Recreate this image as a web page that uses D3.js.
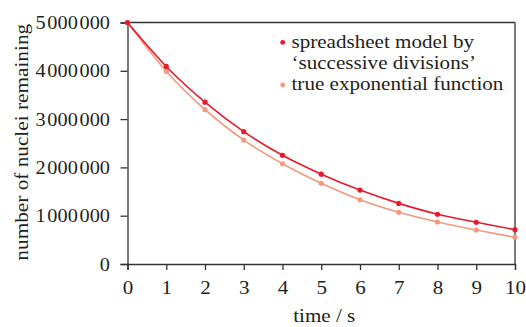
<!DOCTYPE html>
<style>
body { margin: 0; background-color: #FFFFFF; }
text { font-family: "Liberation Serif", "Times New Roman", serif; fill: #231f20; }
.axis .domain, .axis line { stroke: #333; stroke-width: 1.3; }
</style>
<svg width="526" height="327"></svg>
<script src="https://d3js.org/d3.v7.min.js"></script>
<script>

var times = [0, 1, 2, 3, 4, 5, 6, 7, 8, 9, 10];
var spreadsheet = [5000000, 4090000, 3350000, 2740000, 2250000, 1860000, 1530000, 1255000, 1030000, 863000, 710000];
var exponential = [5000000, 3990000, 3195000, 2565000, 2075000, 1670000, 1330000, 1070000, 870000, 704000, 553000];
var yTicks = [0, 1000000, 2000000, 3000000, 4000000, 5000000];
var seriesNames = ["spreadsheet model by", "\u2018successive divisions\u2019", "true exponential function"];

var svg = d3.select("svg"),
    margin = {top: 22.5, right: 11, bottom: 63, left: 127.5},
    width = 526 - margin.left - margin.right,
    height = 327 - margin.top - margin.bottom,
    g = svg.append("g").attr("transform", "translate(" + margin.left + "," + margin.top + ")");

var x = d3.scaleLinear().domain([0, 10]).range([0, width]);
var y = d3.scaleLinear().domain([0, 5000000]).range([height, 0]);

var red = "#e8192c", salmon = "#f5987e";
var fs = 19, stretch = 1.11;  // source text runs a bit longer than Liberation Serif

// frame top/right
g.append("line").attr("x1", 0).attr("x2", width).attr("y1", 0).attr("y2", 0)
  .attr("stroke", "#333").attr("stroke-width", 1.3);
g.append("line").attr("x1", width).attr("x2", width).attr("y1", 0).attr("y2", height)
  .attr("stroke", "#333").attr("stroke-width", 1.3);

var fmt = function(d) { return d3.format(",")(d).replace(/,/g, "\u200A"); };

g.append("g")
    .attr("class", "axis")
    .attr("transform", "translate(0," + height + ")")
    .call(d3.axisBottom(x).tickValues(times).tickSize(6).tickPadding(11))
    .selectAll("text")
      .attr("font-size", fs).attr("font-family", null).attr("fill", null)
      .attr("transform", "scale(" + stretch + ",1)");

g.append("g")
    .attr("class", "axis")
    .call(d3.axisLeft(y).tickValues(yTicks).tickFormat(fmt).tickSize(7).tickPadding(9.4))
    .selectAll("text")
      .attr("font-size", fs).attr("font-family", null).attr("fill", null)
      .attr("transform", "scale(1.07,1)");

g.append("text")
    .attr("transform", "translate(" + (width / 2 + 3) + "," + (height + 58) + ") scale(" + stretch + ",1)")
    .attr("text-anchor", "middle")
    .attr("font-size", fs)
    .text("time / s");

g.append("text")
    .attr("transform", "translate(-100," + (height / 2 - 1) + ") rotate(-90) scale(1.12,1)")
    .attr("text-anchor", "middle")
    .attr("font-size", fs)
    .text("number of nuclei remaining");

var line = d3.line()
    .x(function(d, i) { return x(times[i]); })
    .y(function(d) { return y(d); })
    .curve(d3.curveMonotoneX);

[[exponential, salmon], [spreadsheet, red]].forEach(function(s) {
  g.append("path")
      .attr("d", line(s[0]))
      .attr("fill", "none")
      .attr("stroke", s[1])
      .attr("stroke-width", 1.6);
  g.selectAll(null)
    .data(s[0])
    .enter().append("circle")
      .attr("cx", function(d, i) { return x(times[i]); })
      .attr("cy", function(d) { return y(d); })
      .attr("r", 2.6)
      .attr("fill", s[1]);
});

// legend
var legend = g.append("g").attr("font-size", fs);
legend.append("circle").attr("cx", 155.2).attr("cy", 19.8).attr("r", 2.4).attr("fill", red);
legend.append("circle").attr("cx", 155.2).attr("cy", 62.5).attr("r", 2.4).attr("fill", salmon);
legend.selectAll("text")
  .data(seriesNames)
  .enter().append("text")
    .attr("transform", function(d, i) { return "translate(164," + (25.5 + i * 21) + ") scale(" + stretch + ",1)"; })
    .text(function(d) { return d; });

</script>
